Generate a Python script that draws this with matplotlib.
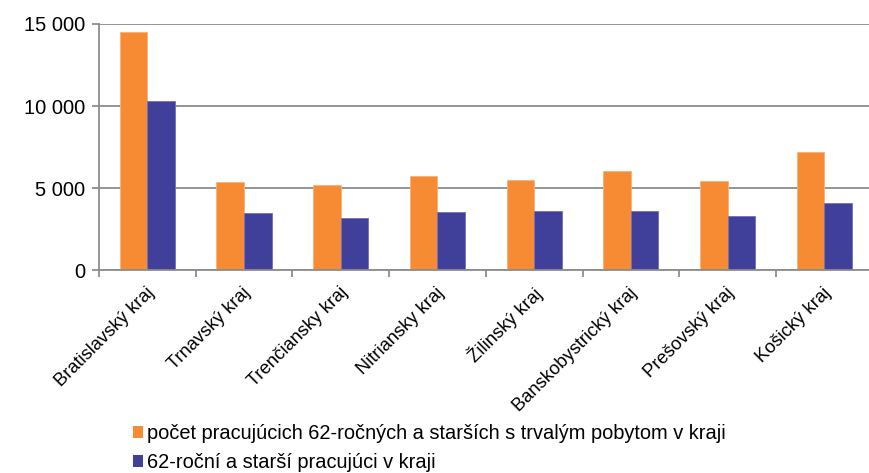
import matplotlib
matplotlib.use("Agg")
import matplotlib.pyplot as plt
import numpy as np
from matplotlib.ticker import FuncFormatter, FixedLocator
from matplotlib.patches import Patch
from matplotlib.transforms import ScaledTranslation

categories = ["Bratislavský kraj", "Trnavský kraj", "Trenčiansky kraj", "Nitriansky kraj",
              "Žilinský kraj", "Banskobystrický kraj", "Prešovský kraj", "Košický kraj"]
resident_workers = [14530, 5360, 5200, 5720, 5500, 6050, 5440, 7190]
workers_in_region = [10310, 3510, 3170, 3550, 3610, 3610, 3330, 4100]
series_names = ["počet pracujúcich 62-ročných a starších s trvalým pobytom v kraji",
                "62-roční a starší pracujúci v kraji"]
y_ticks = [0, 5000, 10000, 15000]

plt.rcParams['font.family'] = ['Liberation Sans', 'DejaVu Sans']

ORANGE = "#F68B33"
BLUE = "#40409A"
GRID = "#8C8C8C"

fig = plt.figure(figsize=(8.7, 4.73), dpi=100)
W, H = 870, 473
left, right, top, bottom = 99, 872.6, 24, 270.3
ax = fig.add_axes([left / W, 1 - bottom / H, (right - left) / W, (bottom - top) / H])

x = np.arange(len(categories))
bw = 0.285
ax.bar(x - bw / 2, resident_workers, bw, color=ORANGE, edgecolor="#F9B07A", linewidth=0.6, zorder=3)
ax.bar(x + bw / 2, workers_in_region, bw, color=BLUE, edgecolor="#7070B8", linewidth=0.6, zorder=3)

ax.set_xlim(-0.5, len(categories) - 0.5)
ax.set_ylim(0, 15000)
ax.yaxis.set_major_locator(FixedLocator(y_ticks))
ax.yaxis.set_major_formatter(FuncFormatter(lambda v, p: f"{int(v):,}".replace(",", " ")))
ax.grid(axis="y", color=GRID, linewidth=1.3, zorder=0)
ax.set_axisbelow(True)

for s in ["top", "right"]:
    ax.spines[s].set_visible(False)
for s in ["left", "bottom"]:
    ax.spines[s].set_color(GRID)
    ax.spines[s].set_linewidth(1.3)
    ax.spines[s].set_zorder(4)

ax.tick_params(axis="y", length=5, width=1.3, color=GRID, labelsize=14.5, pad=5, labelcolor="black")

# category boundaries as major ticks, labels on minor ticks at centers
ax.set_xticks(np.arange(-0.5, len(categories) + 0.5, 1.0))
ax.set_xticklabels([])
ax.tick_params(axis="x", which="major", length=5, width=1.3, color=GRID)
ax.set_xticks(x, minor=True)
ax.set_xticklabels(categories, minor=True, rotation=45, ha="right", va="top",
                   rotation_mode="anchor", fontsize=13.2)
ax.tick_params(axis="x", which="minor", length=0, pad=10)
off = ScaledTranslation(-2 / 100, 0, fig.dpi_scale_trans)
for lab in ax.get_xticklabels(minor=True):
    lab.set_transform(lab.get_transform() + off)

handles = [Patch(facecolor=ORANGE, edgecolor="none"), Patch(facecolor=BLUE, edgecolor="none")]
fig.legend(handles, series_names, loc="upper left", bbox_to_anchor=(133 / W, 1 - 424 / H),
           frameon=False, fontsize=14.4, handlelength=0.5, handleheight=0.5,
           handletextpad=0.2, labelspacing=0.5, borderpad=0, borderaxespad=0)

fig.savefig("out.png", dpi=100)
